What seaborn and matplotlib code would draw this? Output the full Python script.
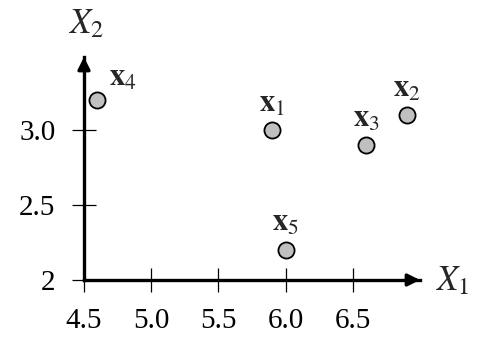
import matplotlib
matplotlib.use("Agg")
import matplotlib.pyplot as plt
import seaborn as sns
import pandas as pd

names = ["1", "2", "3", "4", "5"]
x1_vals = [5.9, 6.9, 6.6, 4.6, 6.0]
x2_vals = [3.0, 3.1, 2.9, 3.2, 2.2]
xticks = [4.5, 5.0, 5.5, 6.0, 6.5]
xtick_labels = ["4.5", "5.0", "5.5", "6.0", "6.5"]
yticks = [2.0, 2.5, 3.0]
ytick_labels = ["2", "2.5", "3.0"]

sns.set_style("white")
plt.rcParams["font.family"] = ["Liberation Serif", "DejaVu Serif"]
plt.rcParams["mathtext.fontset"] = "stix"

df = pd.DataFrame({"X1": x1_vals, "X2": x2_vals, "name": names})

fig = plt.figure(figsize=(4.9, 3.46), dpi=100)
ax = fig.add_axes([84 / 490, 66 / 346, 336 / 490, 223 / 346])
ax.set_xlim(4.5, 7.0)
ax.set_ylim(2.0, 3.49)

sns.scatterplot(data=df, x="X1", y="X2", ax=ax, s=135, color="#c0c0c0",
                edgecolor="black", linewidth=1.3, zorder=5, clip_on=False)

for _, r in df.iterrows():
    if r["name"] == "4":
        off = (18, 16)
    else:
        off = (0, 19)
    ax.annotate(r"$\mathbf{x}_" + r["name"] + "$", (r["X1"], r["X2"]),
                xytext=off, textcoords="offset points", ha="center", va="center",
                fontsize=22)

for s in ["top", "right"]:
    ax.spines[s].set_visible(False)
for s in ["left", "bottom"]:
    ax.spines[s].set_linewidth(2.4)
    ax.spines[s].set_color("black")

# arrow heads
ax.annotate("", xy=(1.0, 0), xycoords="axes fraction", xytext=(0.97, 0),
            arrowprops=dict(arrowstyle="-|>", color="black", lw=2.4,
                            mutation_scale=18, shrinkA=0, shrinkB=0))
ax.annotate("", xy=(0, 1.0), xycoords="axes fraction", xytext=(0, 0.96),
            arrowprops=dict(arrowstyle="-|>", color="black", lw=2.4,
                            mutation_scale=18, shrinkA=0, shrinkB=0))

ax.set_xticks(xticks)
ax.set_xticklabels(xtick_labels)
ax.set_yticks(yticks)
ax.set_yticklabels(ytick_labels)
ax.tick_params(axis="both", direction="inout", length=17, width=0.9,
               colors="black", labelsize=21, bottom=True, left=True)
ax.tick_params(axis="x", pad=12)
ax.tick_params(axis="y", pad=12)

ax.set_xlabel("")
ax.set_ylabel("")
fig.text(452 / 490, 1 - 282 / 346, r"$X_1$", fontsize=25, ha="center", va="center")
fig.text(86 / 490, 1 - 25 / 346, r"$X_2$", fontsize=25, ha="center", va="center")

fig.savefig("out.png", dpi=100)
